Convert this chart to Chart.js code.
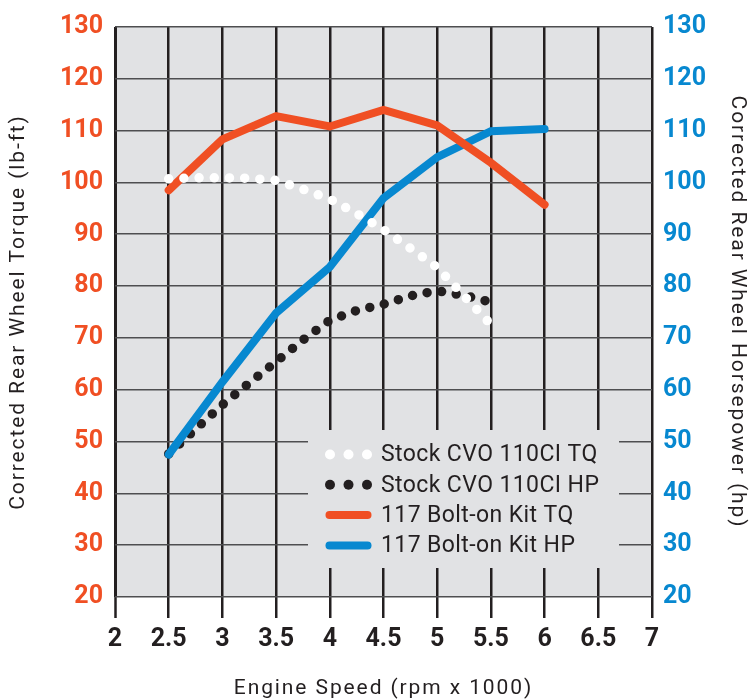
<!DOCTYPE html>
<html>
<head>
<meta charset="utf-8">
<script src="https://cdn.jsdelivr.net/npm/chart.js@4/dist/chart.umd.min.js"></script>
<style>
  html, body { margin: 0; padding: 0; background: #ffffff; }
  #wrap { width: 750px; height: 699px; }
</style>
</head>
<body>
<div id="wrap"><canvas id="c" width="750" height="699"></canvas></div>
<script>
// ---- data ----
const rpmKit = [2.5, 3, 3.5, 4, 4.5, 5, 5.5, 6];
const kitTQ = [98.5, 108.3, 112.8, 110.8, 114, 111, 103.8, 95.7];
const kitHP = [47.5, 61.5, 74.8, 83.7, 97, 104.9, 109.9, 110.3];

const rpmStock = [2.5, 2.75, 3, 3.25, 3.5, 3.75, 4, 4.25, 4.5, 4.75, 5, 5.25, 5.5];
const stockTQ = [100.7, 100.9, 100.9, 100.8, 100.4, 98.7, 96.8, 94.0, 90.9, 87.3, 83.6, 78.1, 72.6];
const stockHP = [47.6, 52.4, 57.1, 61.3, 65.4, 69.6, 73.4, 75.3, 76.5, 78.1, 79.1, 78.2, 76.9];

const xTickLabels = ['2', '2.5', '3', '3.5', '4', '4.5', '5', '5.5', '6', '6.5', '7'];
const yTickValues = [20, 30, 40, 50, 60, 70, 80, 90, 100, 110, 120, 130];
const legendLabels = ['Stock CVO 110CI TQ', 'Stock CVO 110CI HP', '117 Bolt-on Kit TQ', '117 Bolt-on Kit HP'];

const xTitle = 'Engine Speed (rpm x 1000)';
const yLeftTitle = 'Corrected Rear Wheel Torque (lb-ft)';
const yRightTitle = 'Corrected Rear Wheel Horsepower (hp)';

// ---- styles ----
const ORANGE = '#f04f23';
const BLUE = '#0788d0';
const INK = '#231f20';
const PLOT_BG = '#e1e2e4';
const FONT = 'Roboto, "Liberation Sans", sans-serif';
const TITLE_SPACING = '1.9px';

// wider tracking for axis titles (the reference uses a wide, light face)
if (Chart.Scale && Chart.Scale.prototype.drawTitle) {
  const origDrawTitle = Chart.Scale.prototype.drawTitle;
  Chart.Scale.prototype.drawTitle = function () {
    const ctx = this.ctx;
    ctx.save();
    if ('letterSpacing' in ctx) ctx.letterSpacing = TITLE_SPACING;
    origDrawTitle.apply(this, arguments);
    ctx.restore();
  };
}

const pts = (xs, ys) => xs.map((x, i) => ({ x: x, y: ys[i] }));

const plotBg = {
  id: 'plotBg',
  beforeDraw(chart) {
    const a = chart.chartArea, ctx = chart.ctx;
    ctx.save();
    ctx.fillStyle = PLOT_BG;
    ctx.fillRect(a.left, a.top, a.right - a.left, a.bottom - a.top);
    ctx.restore();
  }
};

const legendBox = {
  id: 'legendBox',
  afterDatasetsDraw(chart) {
    const ctx = chart.ctx, a = chart.chartArea;
    const bx = a.left + 193, by = a.top + 403, bw = 311, bh = 138;
    ctx.save();
    ctx.fillStyle = PLOT_BG;
    ctx.fillRect(bx, by, bw, bh);
    const rowY0 = a.top + 427.5, rowGap = 30.3;
    const symX = a.left + 215, textX = a.left + 266;
    ctx.font = '23px ' + FONT;
    ctx.textBaseline = 'middle';
    ctx.textAlign = 'left';
    if ('letterSpacing' in ctx) ctx.letterSpacing = '0.4px';
    legendLabels.forEach((lab, i) => {
      const y = rowY0 + i * rowGap;
      if (i < 2) {
        ctx.fillStyle = i === 0 ? '#ffffff' : INK;
        [0, 18.5, 37].forEach(dx => {
          ctx.beginPath();
          ctx.arc(symX + dx, y, 5, 0, Math.PI * 2);
          ctx.fill();
        });
      } else {
        ctx.strokeStyle = i === 2 ? ORANGE : BLUE;
        ctx.lineWidth = 8;
        ctx.lineCap = 'round';
        ctx.beginPath();
        ctx.moveTo(symX - 0.5, y);
        ctx.lineTo(symX + 37.5, y);
        ctx.stroke();
      }
      ctx.fillStyle = INK;
      ctx.fillText(lab, textX, y + 1);
    });
    ctx.restore();
  }
};

new Chart(document.getElementById('c'), {
  type: 'line',
  data: {
    datasets: [
      { label: legendLabels[0], data: pts(rpmStock, stockTQ), yAxisID: 'yL',
        borderColor: '#ffffff', borderWidth: 9.5, borderDash: [0, 15.2], borderCapStyle: 'round',
        borderJoinStyle: 'round', pointRadius: 0, tension: 0, fill: false },
      { label: legendLabels[2], data: pts(rpmKit, kitTQ), yAxisID: 'yL',
        borderColor: ORANGE, borderWidth: 8, borderCapStyle: 'round', borderJoinStyle: 'miter',
        pointRadius: 0, tension: 0, fill: false },
      { label: legendLabels[3], data: pts(rpmKit, kitHP), yAxisID: 'yR',
        borderColor: BLUE, borderWidth: 8, borderCapStyle: 'round', borderJoinStyle: 'miter',
        pointRadius: 0, tension: 0, fill: false },
      { label: legendLabels[1], data: pts(rpmStock, stockHP), yAxisID: 'yR',
        borderColor: INK, borderWidth: 9.5, borderDash: [0, 14.8], borderCapStyle: 'round',
        borderJoinStyle: 'round', pointRadius: 0, tension: 0, fill: false }
    ]
  },
  options: {
    responsive: false,
    animation: false,
    events: [],
    layout: { padding: { top: 20, left: 0, right: 0, bottom: 0 } },
    plugins: { legend: { display: false }, tooltip: { enabled: false } },
    scales: {
      x: {
        type: 'linear', position: 'bottom', min: 2, max: 7,
        afterFit(s) { s.height = 102; },
        afterBuildTicks(s) { s.ticks = xTickLabels.map(t => ({ value: parseFloat(t) })); },
        ticks: {
          autoSkip: false, maxRotation: 0, padding: 7, color: INK,
          font: { family: FONT, size: 25, weight: 'bold' },
          callback: (v, i) => xTickLabels[i]
        },
        grid: {
          color: INK, lineWidth: (c) => (c.index === 0 ? 3 : 2.5), tickLength: 21, drawTicks: true,
          tickColor: INK, tickWidth: 2.5, offset: false
        },
        border: { display: false },
        title: {
          display: true, text: xTitle, color: INK,
          font: { family: FONT, size: 21, weight: 'normal', lineHeight: 1 }, padding: { top: 0, bottom: 0 }
        }
      },
      yL: {
        type: 'linear', position: 'left', min: 20, max: 130,
        afterFit(s) { s.width = 115; },
        afterBuildTicks(s) { s.ticks = yTickValues.map(v => ({ value: v })); },
        ticks: {
          color: ORANGE, padding: 12, font: { family: FONT, size: 25, weight: 'bold' }
        },
        grid: { color: '#4e4e50', lineWidth: 1.6, drawTicks: false },
        border: { display: false },
        title: {
          display: true, text: yLeftTitle, color: INK,
          font: { family: FONT, size: 21, weight: 'normal' }, padding: { top: 6, bottom: 0 }
        }
      },
      yR: {
        type: 'linear', position: 'right', min: 20, max: 130,
        afterFit(s) { s.width = 98; },
        afterBuildTicks(s) { s.ticks = yTickValues.map(v => ({ value: v })); },
        ticks: {
          color: BLUE, padding: 11, font: { family: FONT, size: 25, weight: 'bold' }
        },
        grid: { display: false, drawTicks: false },
        border: { display: false },
        title: {
          display: true, text: yRightTitle, color: INK,
          font: { family: FONT, size: 21, weight: 'normal' }, padding: { top: 0, bottom: 0 }
        }
      }
    }
  },
  plugins: [plotBg, legendBox]
});
</script>
</body>
</html>
